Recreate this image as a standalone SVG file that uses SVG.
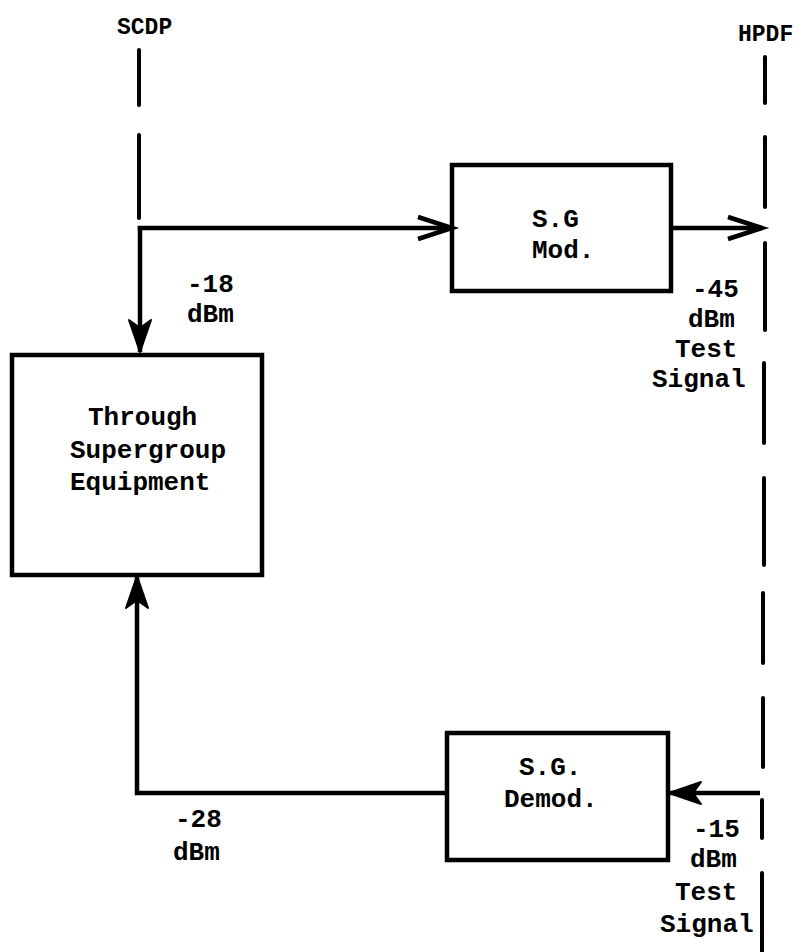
<svg xmlns="http://www.w3.org/2000/svg" width="802" height="952" viewBox="0 0 802 952">
<style>
  .box { fill: #fff; stroke: #000; stroke-width: 4.5; }
  .wire { fill: none; stroke: #000; stroke-width: 4.5; }
  .dash { fill: none; stroke: #000; stroke-width: 4; stroke-linecap: round; }
  text { font-family: "Liberation Mono", "DejaVu Sans Mono", monospace; font-weight: bold; fill: #000; }
  .t { font-size: 26px; }
  .hdr { font-size: 23px; }
</style>
<defs>
  <marker id="open" markerUnits="userSpaceOnUse" markerWidth="40" markerHeight="30" viewBox="-36 -15 40 30" refX="0" refY="0" orient="auto" overflow="visible">
    <path d="M-34,-11 L0,0 L-34,11" fill="none" stroke="#000" stroke-width="4.5" stroke-linejoin="miter"/>
  </marker>
  <marker id="solid" markerUnits="userSpaceOnUse" markerWidth="40" markerHeight="30" viewBox="-36 -15 40 30" refX="0" refY="0" orient="auto" overflow="visible">
    <path d="M0,0 L-32,-11 L-24,0 L-32,11 Z" fill="#000" stroke="#000" stroke-width="2" stroke-linejoin="round"/>
  </marker>
</defs>
<rect width="802" height="952" fill="#fff"/>

<g id="scdp">
  <text class="hdr" x="117" y="34">SCDP</text>
  <path class="dash" d="M139,50 V105 M139,135 V218"/>
</g>

<g id="hpdf">
  <text class="hdr" x="738" y="41">HPDF</text>
  <path class="dash" d="M765,57 V103 M765,137 V207 M765,243 V330 M764,363 V443 M764,478 V565 M763,593 V663 M763,698 V767 M762,800 V838 M762,873 V952"/>
</g>

<g id="through">
  <rect class="box" x="12" y="355" width="250" height="220"/>
  <text class="t" x="88" y="425">Through</text>
  <text class="t" x="70" y="458">Supergroup</text>
  <text class="t" x="70" y="490">Equipment</text>
</g>

<g id="sgmod">
  <rect class="box" x="452" y="165" width="219" height="126"/>
  <text class="t" x="532" y="227">S.G</text>
  <text class="t" x="532" y="258">Mod.</text>
</g>

<g id="sgdemod">
  <rect class="box" x="447" y="733" width="221" height="127"/>
  <text class="t" x="519" y="775">S.G.</text>
  <text class="t" x="504" y="807">Demod.</text>
</g>

<g id="connectors">
  <path class="wire" d="M137.75,228 H452" marker-end="url(#open)"/>
  <path class="wire" d="M140,226 V352" marker-end="url(#solid)"/>
  <path class="wire" d="M671,228 H762" marker-end="url(#open)"/>
  <path class="wire" d="M760,793 H669" marker-end="url(#solid)"/>
  <path class="wire" d="M447,793 H137 V576" marker-end="url(#solid)"/>
</g>

<g id="labels">
  <text class="t" x="187" y="292">-18</text>
  <text class="t" x="187" y="322">dBm</text>
  <text class="t" x="692" y="297">-45</text>
  <text class="t" x="688" y="327">dBm</text>
  <text class="t" x="675" y="357">Test</text>
  <text class="t" x="652" y="387">Signal</text>
  <text class="t" x="175" y="827">-28</text>
  <text class="t" x="173" y="860">dBm</text>
  <text class="t" x="693" y="837">-15</text>
  <text class="t" x="690" y="867">dBm</text>
  <text class="t" x="675" y="900">Test</text>
  <text class="t" x="660" y="932">Signal</text>
</g>
</svg>
